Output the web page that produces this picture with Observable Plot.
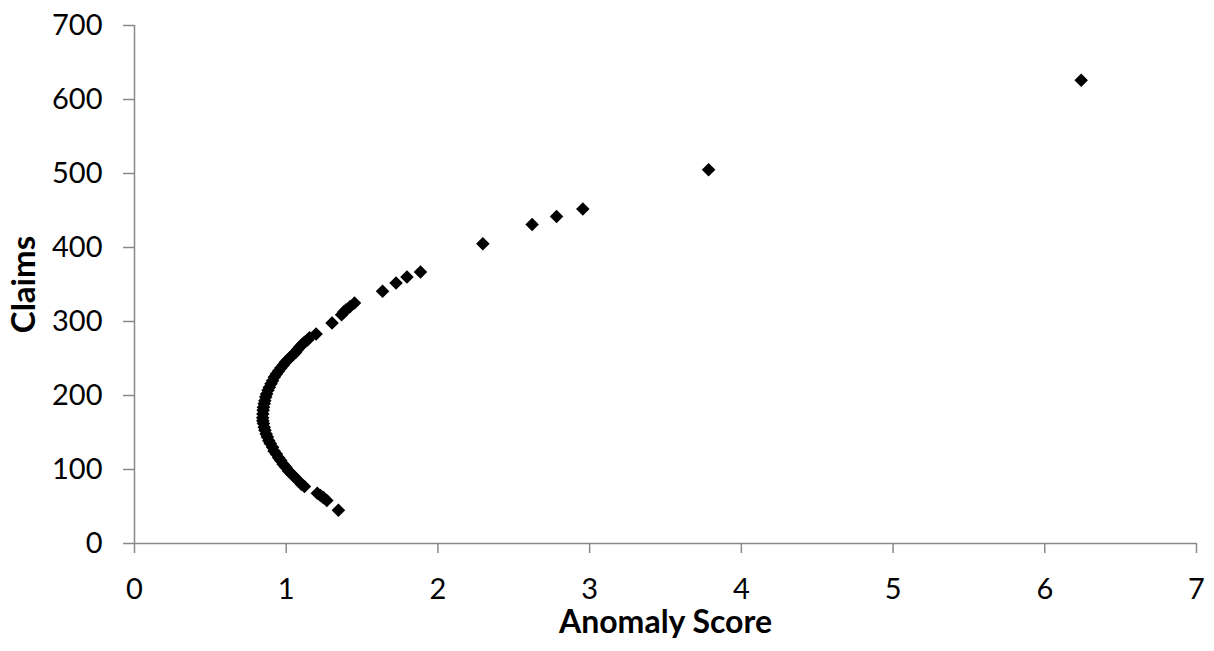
<!DOCTYPE html>
<html>
<head>
<meta charset="utf-8">
<script src="https://cdn.jsdelivr.net/npm/d3@7"></script>
<script src="https://cdn.jsdelivr.net/npm/@observablehq/plot@0.6"></script>
<style>
  html, body { margin: 0; padding: 0; background: #ffffff; }
  #chart { width: 1214px; height: 651px; }
</style>
</head>
<body>
<div id="chart"></div>
<script>
// Anomaly score (x) per claim count (y)
const anomalyScore = [
  1.344, 1.268, 1.245, 1.226, 1.205, 1.12, 1.10, 1.078, 1.055, 1.036,
  1.015, 0.998, 0.98, 0.964, 0.95, 0.935, 0.92, 0.91, 0.895, 0.885,
  0.876, 0.868, 0.86, 0.855, 0.85, 0.846, 0.845, 0.846, 0.848, 0.85,
  0.855, 0.859, 0.865, 0.871, 0.88, 0.889, 0.90, 0.91, 0.922, 0.935,
  0.95, 0.964, 0.98, 0.994, 1.01, 1.028, 1.045, 1.061, 1.075, 1.091,
  1.105, 1.12, 1.14, 1.154, 1.197, 1.302, 1.365, 1.38, 1.395, 1.42,
  1.45, 1.635, 1.724, 1.796, 1.885, 2.296, 2.621, 2.782, 2.955, 3.784,
  6.24
];
const claims = [
  45, 58, 62, 65, 68, 77, 80, 85, 90, 94,
  98, 103, 107, 112, 116, 121, 125, 130, 135, 139,
  144, 148, 153, 157, 162, 166, 170, 175, 180, 184,
  189, 193, 198, 202, 207, 211, 216, 220, 225, 229,
  233, 237, 241, 245, 248, 252, 255, 258, 262, 266,
  269, 272, 275, 278, 283, 298, 309, 313, 316, 320,
  325, 341, 352, 360, 367, 405, 431, 442, 452, 505,
  626
];
const xTicks = [0, 1, 2, 3, 4, 5, 6, 7];
const yTicks = [0, 100, 200, 300, 400, 500, 600, 700];
const xTitle = "Anomaly Score";
const yTitle = "Claims";

const points = anomalyScore.map((s, i) => ({score: s, claims: claims[i]}));
const axisGray = "#898989";

const chart = Plot.plot({
  width: 1214,
  height: 651,
  marginLeft: 134,
  marginRight: 18,
  marginTop: 25,
  marginBottom: 108,
  style: {fontFamily: "Lato, 'Open Sans', sans-serif", fontSize: "29px", background: "#ffffff", color: "#000000"},
  x: {domain: [0, 7]},
  y: {domain: [0, 700]},
  marks: [
    Plot.ruleX([0], {y1: 0, y2: 700, stroke: axisGray, strokeWidth: 1.5}),
    Plot.ruleY([0], {stroke: axisGray, strokeWidth: 1.5}),
    Plot.axisX(xTicks, {tickSize: 10, tickPadding: 25, stroke: axisGray, strokeWidth: 1.5, fill: "#000000", fontSize: 29, tickFormat: d => String(d), label: null}),
    Plot.axisY(yTicks, {tickSize: 11, tickPadding: 21, stroke: axisGray, strokeWidth: 1.5, fill: "#000000", fontSize: 29, tickFormat: d => String(d), label: null}),
    Plot.dot(points, {x: "score", y: "claims", symbol: "diamond2", r: 6.1, fill: "#000000", stroke: "none"}),
    Plot.text([xTitle], {frameAnchor: "bottom", lineAnchor: "middle", textAnchor: "middle", dy: 79, fontSize: 32, fontWeight: "bold", fill: "#000000"}),
    Plot.text([yTitle], {frameAnchor: "left", lineAnchor: "middle", textAnchor: "middle", dx: -110, rotate: -90, fontSize: 33, fontWeight: "bold", fill: "#000000"})
  ]
});
document.getElementById("chart").appendChild(chart);
</script>
</body>
</html>
